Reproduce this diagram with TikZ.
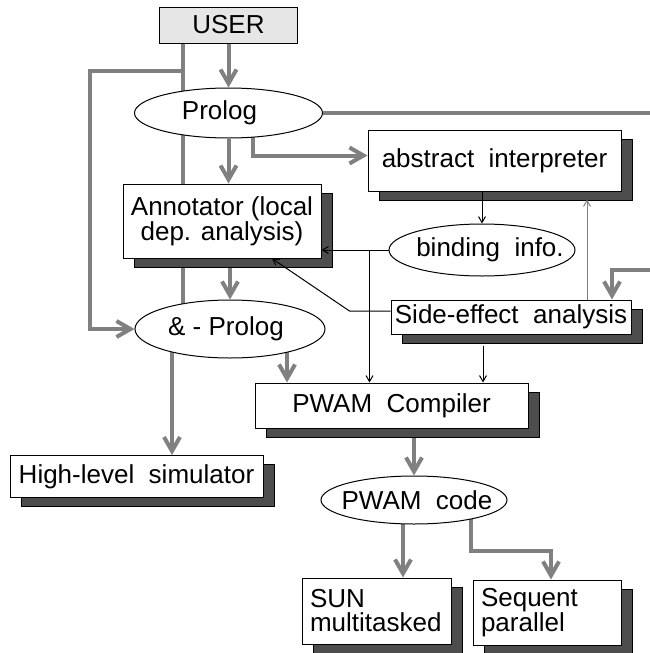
\documentclass[tikz,border=0pt]{standalone}
\usepackage{fontspec}
\setmainfont{Liberation Sans}
\usetikzlibrary{shapes.geometric,arrows.meta,shadows,backgrounds}
\definecolor{shade}{HTML}{4D4D4D}
\definecolor{pale}{HTML}{E6E6E6}

\begin{document}
\begin{tikzpicture}[x=1pt,y=-1pt,
    every node/.style={font=\fontsize{26}{24}\selectfont, line width=1pt},
    blk/.style={draw, fill=white, inner sep=0pt,
      drop shadow={shadow xshift=11pt, shadow yshift=-9pt, fill=shade, draw=black, opacity=1}},
    oval/.style={ellipse, draw, fill=white, inner ysep=0pt, inner xsep=-20pt},
    gline/.style={draw=gray, line width=4pt},
    gflow/.style={gline, -{Straight Barb[length=14pt,width=16pt]}},
    tflow/.style={line width=1pt, -{Straight Barb[length=6pt,width=7pt]}}]
  \useasboundingbox (0,0) rectangle (650,653);
  \coordinate (rtop) at (650,113);
  \coordinate (rside) at (650,270);

  \node[draw, fill=pale, minimum width=138pt, minimum height=36pt] (user) at (228.5,25) {USER};
  \node[oval, minimum width=188pt, minimum height=50pt] (prolog) at (228.5,113) {Prolog\hspace*{18pt}};
  \node[blk, minimum width=253pt, minimum height=61pt] (absint) at (494.5,160.5) {abstract\ \ interpreter};
  \node[blk, minimum width=198pt, minimum height=74pt, align=center] (annot) at (222,221) {Annotator (local\\dep. analysis)};
  \node[oval, minimum width=186pt, minimum height=52pt] (bind) at (482,250) {\hspace*{16pt}binding\ \ info.};
  \node[blk, minimum width=240pt, minimum height=34pt] (side) at (511,317) {Side-effect\ \ analysis};
  \node[oval, minimum width=190pt, minimum height=58pt] (andp) at (230,329) {\&\ -\ Prolog\hspace*{8pt}};
  \node[blk, minimum width=273pt, minimum height=45pt] (comp) at (391.5,405.5) {PWAM\ \ Compiler};
  \node[blk, minimum width=253pt, minimum height=42pt] (sim) at (136.5,476.5) {High-level\ \ simulator};
  \node[oval, minimum width=186pt, minimum height=48pt] (code) at (414,500) {\hspace*{6pt}PWAM\ \ code};
  \node[blk, text width=133pt, inner xsep=8pt, minimum height=66pt, align=left] (sun) at (376.5,611) {SUN\\multitasked};
  \node[blk, text width=132pt, inner xsep=8pt, minimum height=65pt, align=left] (seq) at (547,612.5) {Sequent\\parallel};

  % thick grey flow, kept under the boxes
  \begin{pgfonlayer}{background}
    \draw[gline] ([xshift=-46pt]user.south) -- ([xshift=-46pt]user.south |- andp.center);
    \draw[gflow] ([xshift=-46pt,yshift=-27pt]user.south) -| ([xshift=-45pt]andp.west) -- (andp.west);
    \draw[gflow] (user) -- (prolog.north);
    \draw[gflow] (prolog) -- (prolog.south |- annot.north);
    \draw[gflow] ([xshift=24pt]prolog.center) |- ([yshift=5pt]absint.west);
    \draw[gline] (prolog.east) -- (rtop);
    \draw[gflow] (rside) -| ([xshift=101pt]side.north);
    \draw[gflow] (annot.south -| andp.north) -- (andp.north);
    \draw[gflow] ([xshift=-58pt]andp.center) -- ([xshift=-58pt]andp.center |- sim.north);
    \draw[gflow] ([xshift=57pt]andp.center) -- ([xshift=57pt]andp.center |- comp.north);
    \draw[gflow] (code.center |- comp.south) -- (code.north);
    \draw[gflow] ([xshift=-11pt]code.center) -- ([xshift=-11pt]code.center |- sun.north);
    \draw[gflow] ([xshift=57pt]code.center) -- ++(0,51) -| ([xshift=4pt]seq.north);
  \end{pgfonlayer}

  % thin analysis links
  \draw[tflow] (bind.north |- absint.south) -- (bind.north);
  \draw[tflow] (bind.west) -- (bind.west -| annot.east);
  \draw[tflow] ([xshift=-19pt]bind.west) -- ([xshift=-19pt]bind.west |- comp.north);
  \draw[tflow] ([yshift=6pt]side.west) -- ++(-41,0) -- ([xshift=50pt]annot.south);
  \draw[tflow, draw=gray] ([xshift=76pt]side.north) -- ([xshift=92.5pt,yshift=-8pt]absint.south);
  \draw[tflow] ([xshift=-28pt,yshift=-11pt]side.south) -- ([xshift=-28pt]side.south |- comp.north);
\end{tikzpicture}
\end{document}
